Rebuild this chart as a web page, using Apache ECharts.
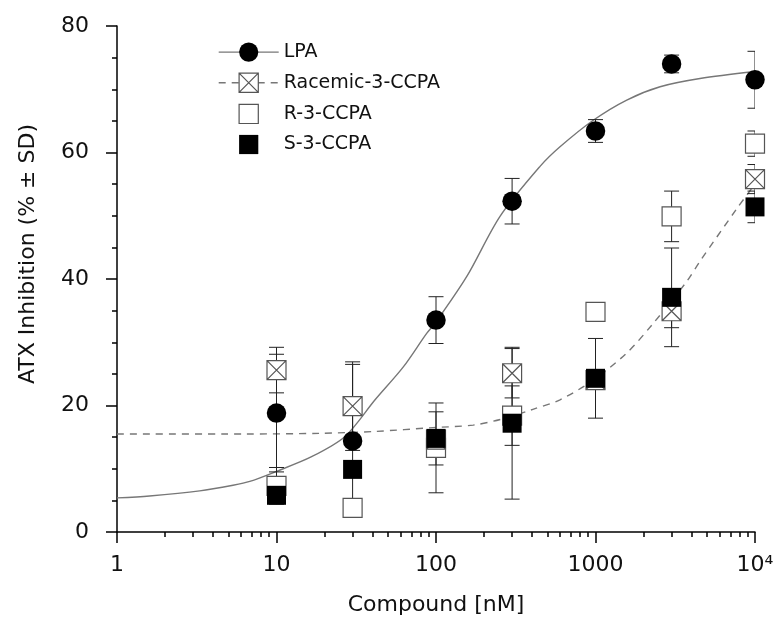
<!DOCTYPE html>
<html>
<head>
  <meta charset="utf-8">
  <title>ATX Inhibition</title>
  <style>html, body { margin: 0; padding: 0; background: #fff; }</style>
</head>
<body>
  <div id="main" style="width:775px;height:620px;"></div>
  <script src="https://cdn.jsdelivr.net/npm/echarts@6.0.0/dist/echarts.min.js"></script>
  <script>
    // concentrations (nM)
    const conc = [10, 30, 100, 300, 1000, 3000, 10000];

    // means and SD
    const lpaMean = [18.8, 14.4, 33.5, 52.3, 63.4, 74.0, 71.5];
    const lpaSd = [9.3, 12.1, 3.7, 3.6, 1.8, 1.4, 4.5];
    const racMean = [25.6, 19.9, 14.6, 25.1, 24.0, 34.9, 55.8];
    const racSd = [3.6, 7.0, 1.0, 3.9, 0.8, 2.6, 2.3];
    const rMean = [7.3, 3.8, 13.3, 18.4, 34.8, 49.9, 61.4];
    const rSd = [2.9, 0.8, 7.1, 4.7, 1.2, 4.0, 2.0];
    const sMean = [5.8, 9.9, 14.8, 17.2, 24.3, 37.1, 51.4];
    const sSd = [1.0, 1.2, 4.2, 12.0, 6.3, 7.8, 2.5];

    // fitted curves
    const lpaFitX = [1, 1.6, 3.3, 5.34, 6.8, 9.8, 16.6, 26.9, 41.5, 62.4, 87.4, 100, 156, 252, 449, 599, 968, 1570, 2540, 4520, 10000];
    const lpaFitY = [5.4, 5.7, 6.5, 7.4, 8.0, 9.5, 11.9, 15.1, 20.9, 26.1, 31.4, 33.2, 40.4, 49.9, 57.8, 60.9, 65.1, 68.3, 70.4, 71.7, 72.8];
    const racFitX = [1, 6.35, 18.7, 41.5, 95.7, 171, 263, 405, 599, 968, 1570, 2303, 3730, 4520, 7680, 10000];
    const racFitY = [15.5, 15.5, 15.6, 15.9, 16.5, 16.9, 17.9, 19.4, 20.9, 24.0, 28.3, 33.0, 39.6, 42.8, 51.1, 55.0];

    // axis ticks
    const xMajor = [1, 10, 100, 1000, 10000];
    const xMinor = [2, 3, 4, 5, 6, 7, 8, 9,
      20, 30, 40, 50, 60, 70, 80, 90,
      200, 300, 400, 500, 600, 700, 800, 900,
      2000, 3000, 4000, 5000, 6000, 7000, 8000, 9000];

    const sqPath = 'path://M0,0H10V10H0Z';
    const xSqPath = 'path://M0,0H10V10H0ZM0,0L10,10M10,0L0,10';
    const font = 'DejaVu Sans';
    const axisStyle = { color: '#000', width: 1.5 };

    const openStyle = { color: '#fff', borderColor: '#555', borderWidth: 1.2, opacity: 1 };
    const solidStyle = { color: '#000', borderWidth: 0, opacity: 1 };

    function pts(mean) {
      return conc.map((c, i) => [c, mean[i]]);
    }
    function errs(mean, sd) {
      return conc.map((c, i) => [c, mean[i] - sd[i], mean[i] + sd[i]]);
    }
    function pairs(xs, ys) {
      return xs.map((x, i) => [x, ys[i]]);
    }

    function renderErr(params, api) {
      const x = api.value(0);
      const lo = api.coord([x, api.value(1)]);
      const hi = api.coord([x, api.value(2)]);
      const w = 7.5;
      const st = { stroke: '#222', lineWidth: 1 };
      return {
        type: 'group',
        children: [
          { type: 'line', shape: { x1: lo[0], y1: lo[1], x2: hi[0], y2: hi[1] }, style: st },
          { type: 'line', shape: { x1: hi[0] - w, y1: hi[1], x2: hi[0] + w, y2: hi[1] }, style: st },
          { type: 'line', shape: { x1: lo[0] - w, y1: lo[1], x2: lo[0] + w, y2: lo[1] }, style: st }
        ]
      };
    }

    function errSeries(mean, sd) {
      return {
        type: 'custom',
        renderItem: renderErr,
        data: errs(mean, sd),
        encode: { x: 0, y: [1, 2] },
        clip: true,
        silent: true,
        z: 2
      };
    }

    // empty line series only used for the legend icons of R / S
    function legendOnly(name, style) {
      return {
        name: name, type: 'line', data: [],
        symbol: sqPath, symbolSize: 19,
        itemStyle: style, lineStyle: { width: 0 }
      };
    }

    const option = {
      animation: false,
      textStyle: { fontFamily: font, color: '#111' },
      grid: { left: 117, right: 20, top: 26, bottom: 88, outerBoundsMode: 'none', containLabel: false },
      legend: {
        left: 218, top: 42.5, padding: 0, orient: 'vertical',
        itemWidth: 60, itemHeight: 24, itemGap: 10.8, selectedMode: false,
        textStyle: { fontSize: 19, fontFamily: font, color: '#111' },
        lineStyle: { width: 1.4 },
        data: [
          { name: 'LPA', itemStyle: solidStyle },
          { name: 'Racemic-3-CCPA', itemStyle: openStyle },
          { name: 'R-3-CCPA', itemStyle: openStyle, lineStyle: { width: 0, opacity: 0 } },
          { name: 'S-3-CCPA', itemStyle: solidStyle, lineStyle: { width: 0, opacity: 0 } }
        ]
      },
      xAxis: [
        {
          type: 'log', logBase: 10, min: 1, max: 10000, position: 'bottom',
          name: 'Compound [nM]', nameLocation: 'middle', nameGap: 62, nameMoveOverlap: false,
          nameTextStyle: { fontSize: 22, fontFamily: font, color: '#111' },
          axisLine: { show: true, onZero: false, lineStyle: axisStyle },
          axisTick: { show: true, length: 11, customValues: xMajor, lineStyle: axisStyle },
          axisLabel: {
            customValues: xMajor, fontSize: 22, margin: 22, color: '#111', fontFamily: font,
            formatter: v => (v === 10000 ? '10⁴' : String(v))
          },
          splitLine: { show: false },
          minorTick: { show: false }
        },
        {
          type: 'log', logBase: 10, min: 1, max: 10000, position: 'bottom',
          axisLine: { show: false, onZero: false },
          axisTick: { show: true, length: 5, customValues: xMinor, lineStyle: axisStyle },
          axisLabel: { show: false },
          splitLine: { show: false }
        }
      ],
      yAxis: {
        type: 'value', min: 0, max: 80, interval: 20,
        name: 'ATX Inhibition (% ± SD)', nameLocation: 'middle', nameGap: 78, nameMoveOverlap: false,
        nameTextStyle: { fontSize: 22, fontFamily: font, color: '#111', padding: [0, 0, 0, 50] },
        axisLine: { show: true, onZero: false, lineStyle: axisStyle },
        axisTick: { show: true, length: 11, lineStyle: axisStyle },
        minorTick: { show: true, splitNumber: 4, length: 5, lineStyle: axisStyle },
        axisLabel: { fontSize: 22, margin: 28, color: '#111', fontFamily: font },
        splitLine: { show: false },
        minorSplitLine: { show: false }
      },
      series: [
        {
          name: 'LPA', type: 'line', data: pairs(lpaFitX, lpaFitY),
          smooth: 0.3, showSymbol: false, symbol: 'circle', symbolSize: 19,
          itemStyle: { color: '#000' },
          lineStyle: { color: '#777', width: 1.4 },
          silent: true, z: 1
        },
        {
          name: 'Racemic-3-CCPA', type: 'line', data: pairs(racFitX, racFitY),
          smooth: 0.3, showSymbol: false, symbol: xSqPath, symbolSize: 19,
          itemStyle: openStyle,
          lineStyle: { color: '#777', width: 1.4, type: [7, 6] },
          silent: true, z: 1
        },
        legendOnly('R-3-CCPA', openStyle),
        legendOnly('S-3-CCPA', solidStyle),
        errSeries(rMean, rSd),
        errSeries(racMean, racSd),
        errSeries(sMean, sSd),
        errSeries(lpaMean, lpaSd),
        {
          name: 'R points', type: 'scatter', data: pts(rMean),
          symbol: sqPath, symbolSize: 19, clip: false,
          itemStyle: openStyle, z: 3
        },
        {
          name: 'Racemic points', type: 'scatter', data: pts(racMean),
          symbol: xSqPath, symbolSize: 19, clip: false,
          itemStyle: openStyle, z: 4
        },
        {
          name: 'S points', type: 'scatter', data: pts(sMean),
          symbol: sqPath, symbolSize: 19, clip: false,
          itemStyle: solidStyle, z: 5
        },
        {
          name: 'LPA points', type: 'scatter', data: pts(lpaMean),
          symbol: 'circle', symbolSize: 19.5, clip: false,
          itemStyle: solidStyle, z: 6
        }
      ]
    };

    const chart = echarts.init(document.getElementById('main'));
    chart.setOption(option);
  </script>
</body>
</html>
